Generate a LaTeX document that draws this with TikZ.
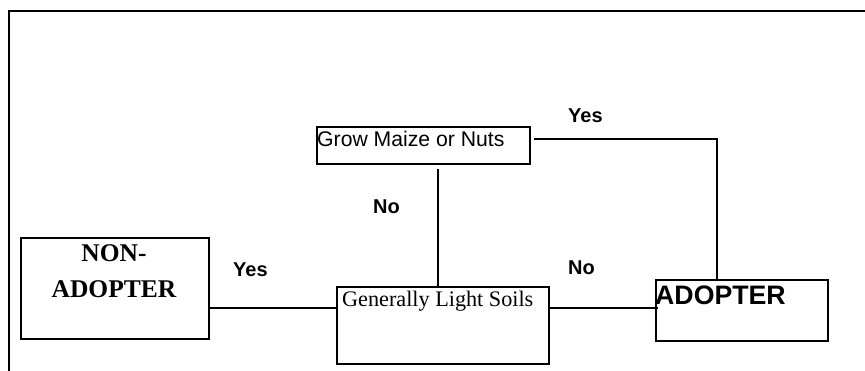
\documentclass[tikz,border=0pt]{standalone}
\usepackage{fontspec}
\setmainfont{Liberation Serif}
\setsansfont{Liberation Sans}
\begin{document}
\begin{tikzpicture}[x=1pt,y=-1pt,
  box/.style={draw, line width=1.6pt, anchor=north west, inner sep=0pt},
  lbl/.style={font=\sffamily\bfseries\fontsize{20}{22}\selectfont, anchor=base west, inner sep=0pt},
  conn/.style={line width=1.5pt}]
\useasboundingbox (0,0) rectangle (865,371);
% frame
\draw[line width=1.6pt] (9,371) -- (9,11) -- (866,11);
% boxes
\node[box, minimum width=188pt, minimum height=101pt] (non) at (20,237) {};
\node[box, minimum width=212pt, minimum height=77pt] (gen) at (336,286) {};
\node[box, minimum width=172pt, minimum height=61pt] (adopt) at (655,279) {};
\node[box, minimum width=213pt, minimum height=37pt] (grow) at (316,126) {};
% box texts
\node[font=\rmfamily\bfseries\fontsize{25.5}{36}\selectfont, align=center, anchor=base, inner sep=0pt] (nontext) at (114,298) {NON-\\ADOPTER};
\node[font=\rmfamily\fontsize{22.2}{24}\selectfont, anchor=base west, inner sep=0pt] (gentext) at (342,307) {Generally Light Soils};
\node[font=\sffamily\bfseries\fontsize{26.7}{28}\selectfont, anchor=base west, inner sep=0pt] (adopttext) at (655,305) {ADOPTER};
\node[font=\sffamily\fontsize{21.2}{23}\selectfont, anchor=base west, inner sep=0pt] (growtext) at (317,147) {Grow Maize or Nuts};
% labels
\node[lbl] (yes1) at (568,123) {Yes};
\node[lbl] (no1) at (373,214) {No};
\node[lbl] (yes2) at (233,277) {Yes};
\node[lbl] (no2) at (568,275) {No};
% connectors
\coordinate (ya) at (0,308);
\coordinate (vx) at (438,0);
\coordinate (corner) at (717,139);
\draw[conn] (non.east |- ya) -- (gen.west |- ya);
\draw[conn] (gen.east |- ya) -- ([xshift=3pt]adopt.west |- ya);
\draw[conn] ([yshift=-4pt]grow.south -| vx) -- ([yshift=-2pt]gen.north -| vx);
\draw[conn] ([xshift=3pt]grow.east |- corner) -- (corner) -- (adopt.north -| corner);
\end{tikzpicture}
\end{document}
